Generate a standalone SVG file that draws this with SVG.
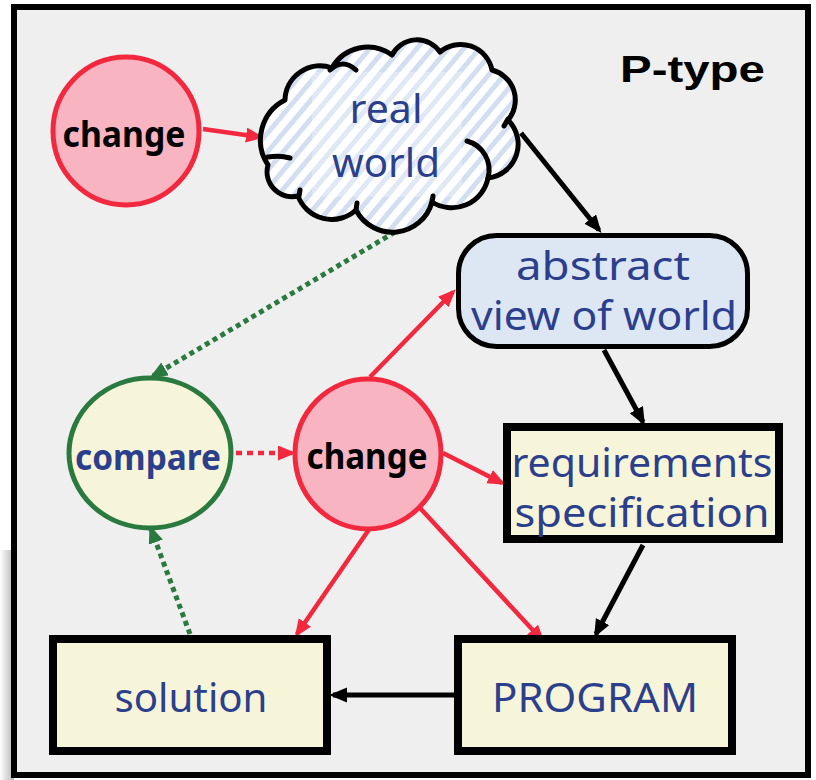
<svg xmlns="http://www.w3.org/2000/svg" width="816" height="780" viewBox="0 0 816 780">
<defs>
<pattern id="hatch" patternUnits="userSpaceOnUse" width="12" height="12" patternTransform="rotate(40)">
<rect width="12" height="12" fill="#ffffff"/>
<rect width="5" height="12" fill="#d3dff1"/>
</pattern>
<linearGradient id="shadow" x1="0" y1="0" x2="1" y2="0">
<stop offset="0" stop-color="#ffffff"/>
<stop offset="1" stop-color="#b5b5b5"/>
</linearGradient>
<marker id="ar" markerUnits="userSpaceOnUse" markerWidth="18" markerHeight="16" refX="14" refY="7.5" orient="auto"><path d="M0,0 L18,7.5 L0,15 z" fill="#f2283e"/></marker>
<marker id="ab" markerUnits="userSpaceOnUse" markerWidth="18" markerHeight="16" refX="14" refY="7.5" orient="auto"><path d="M0,0 L18,7.5 L0,15 z" fill="#000"/></marker>
<marker id="ag" markerUnits="userSpaceOnUse" markerWidth="18" markerHeight="16" refX="14" refY="7.5" orient="auto"><path d="M0,0 L18,7.5 L0,15 z" fill="#2a7a3f"/></marker>
</defs>
<style>
.lbl{font-family:"Noto Sans","DejaVu Sans",sans-serif;font-size:40px;fill:#2b3f8d;text-anchor:middle}
.bold{font-family:"Noto Sans","DejaVu Sans",sans-serif;font-size:35px;font-weight:bold;text-anchor:middle}
.box{fill:#f7f5d9;stroke:#000;stroke-width:8}
.red{stroke:#f2283e;stroke-width:4.5;fill:none}
.blk{stroke:#000;stroke-width:5;fill:none}
.grn{stroke:#2a7a3f;stroke-width:5;fill:none;stroke-dasharray:5 4}
.tick{stroke:#000;stroke-width:5;fill:none;stroke-linecap:round}
</style>
<rect width="816" height="780" fill="#ffffff"/>
<rect x="0" y="550" width="14" height="230" fill="url(#shadow)"/>
<rect x="14" y="7" width="794" height="768" fill="#efefef" stroke="#000" stroke-width="6"/>
<text x="620" y="82" font-family="Liberation Sans, Arial, sans-serif" font-size="36" font-weight="bold" textLength="145" lengthAdjust="spacingAndGlyphs">P-type</text>

<g id="connectors">
<path class="red" d="M203,129 L260,137" marker-end="url(#ar)"/>
<path class="blk" d="M521,133 L599,230" marker-end="url(#ab)"/>
<path class="grn" d="M395,232 L153,376" marker-end="url(#ag)"/>
<path class="red" d="M236,453 L292,453" stroke-dasharray="6 5" marker-end="url(#ar)"/>
<path class="red" d="M370,377 L453,292" marker-end="url(#ar)"/>
<path class="red" d="M443,453 L502,483" marker-end="url(#ar)"/>
<path class="blk" d="M604,350 L643,422" marker-end="url(#ab)"/>
<path class="red" d="M370,528 L297,634" marker-end="url(#ar)"/>
<path class="red" d="M420,508 L542,640" marker-end="url(#ar)"/>
<path class="blk" d="M643,545 L596,634" marker-end="url(#ab)"/>
<path class="blk" d="M454,695 L333,695" marker-end="url(#ab)"/>
<path class="grn" d="M190,634 L151,529" marker-end="url(#ag)"/>
</g>

<g id="change-top">
<ellipse cx="126" cy="131" rx="73" ry="74" fill="#f8b4c1" stroke="#f2283e" stroke-width="5"/>
<text class="bold" x="124" y="147" textLength="123" lengthAdjust="spacingAndGlyphs">change</text>
</g>

<g id="real-world">
<path d="M268,165 A45,45 0 0 1 285,100 A35,35 0 0 1 332,68 A41,41 0 0 1 392,55 A28,28 0 0 1 440,52 A32,32 0 0 1 492,70 A31,31 0 0 1 508,120 A34,34 0 0 1 488,178 A37,37 0 0 1 432,202 A41,41 0 0 1 356,210 A36,36 0 0 1 298,196 A25,25 0 0 1 268,165 Z" fill="url(#hatch)" stroke="#000" stroke-width="5" stroke-linejoin="round"/>
<rect x="312" y="72" width="150" height="125" fill="#ffffff" opacity="0.3"/>
<path class="tick" d="M467,141 A30,30 0 0 1 488,178"/>
<path class="tick" d="M268,157 Q280,155 290,158"/>
<path class="tick" d="M330,70 Q343,58 356,70"/>
<path class="tick" d="M508,119 L504,126"/>
<path class="tick" d="M299,196 L300,190"/>
<path class="tick" d="M356,210 L357,203"/>
<path class="tick" d="M432,202 L433,196"/>
<text class="lbl" x="386" y="123" textLength="73" lengthAdjust="spacingAndGlyphs">real</text>
<text class="lbl" x="386" y="177" textLength="108" lengthAdjust="spacingAndGlyphs">world</text>
</g>

<g id="abstract-view">
<rect x="458.5" y="235.5" width="289" height="111" rx="38" fill="#dde6f3" stroke="#000" stroke-width="5"/>
<text class="lbl" x="603" y="280" textLength="174" lengthAdjust="spacingAndGlyphs">abstract</text>
<text class="lbl" x="604" y="330" textLength="266" lengthAdjust="spacingAndGlyphs">view of world</text>
</g>

<g id="compare">
<ellipse cx="150" cy="453" rx="81" ry="75" fill="#f7f5d9" stroke="#2a7a3f" stroke-width="5"/>
<text class="bold" x="148" y="470" fill="#2b3f8d" textLength="146" lengthAdjust="spacingAndGlyphs">compare</text>
</g>

<g id="change-mid">
<ellipse cx="368" cy="454" rx="73" ry="75" fill="#f8b4c1" stroke="#f2283e" stroke-width="5"/>
<text class="bold" x="367" y="469" textLength="121" lengthAdjust="spacingAndGlyphs">change</text>
</g>

<g id="requirements">
<rect class="box" x="507" y="427" width="272" height="112"/>
<text class="lbl" x="642" y="477" textLength="261" lengthAdjust="spacingAndGlyphs">requirements</text>
<text class="lbl" x="642" y="527" textLength="255" lengthAdjust="spacingAndGlyphs">specification</text>
</g>

<g id="solution">
<rect class="box" x="53" y="639" width="274" height="112"/>
<text class="lbl" x="191" y="712" textLength="153" lengthAdjust="spacingAndGlyphs">solution</text>
</g>

<g id="program">
<rect class="box" x="458" y="639" width="274" height="112"/>
<text class="lbl" x="595" y="712" textLength="206" lengthAdjust="spacingAndGlyphs">PROGRAM</text>
</g>
</svg>
